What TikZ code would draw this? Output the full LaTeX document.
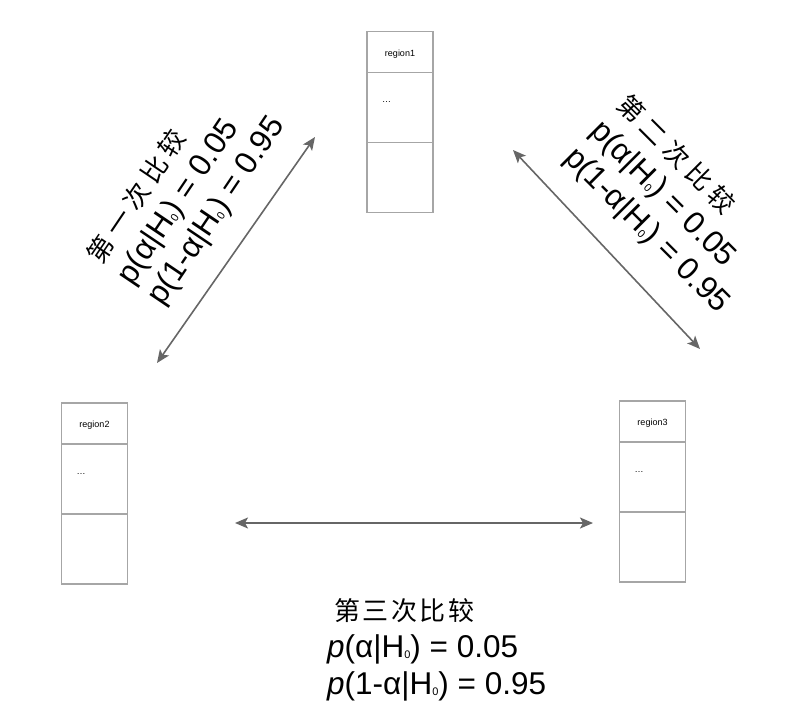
\documentclass[tikz,border=0pt]{standalone}
\usepackage{fontspec}
\setmainfont{Liberation Sans}
\newfontfamily\cjk{Noto Sans CJK SC}
\usetikzlibrary{positioning,arrows.meta}
\definecolor{boxgray}{HTML}{A6A6A6}
\definecolor{arrowgray}{HTML}{666666}
\newcommand{\Hnull}{H\raisebox{-1pt}{\fontsize{11}{11}\selectfont 0}}
\newcommand{\roundname}[2]{{\cjk\addfontfeature{LetterSpace=#1}\fontsize{26}{37}\selectfont #2}}

\begin{document}
\begin{tikzpicture}[x=1pt, y=-1pt,
      cell/.style={draw=boxgray, line width=1.5pt, minimum width=66pt, inner sep=0pt, outer sep=0pt},
      head/.style={cell, minimum height=41pt, text height=8pt, text depth=0pt, font=\fontsize{9}{9}\selectfont},
      body/.style={cell, minimum height=70pt, text width=36pt, align=left, text depth=10pt, font=\fontsize{9}{9}\selectfont},
      foot/.style={cell, minimum height=70pt},
      pair/.style={arrowgray, line width=1.6pt, {Stealth[length=13pt,width=11pt,inset=3pt]}-{Stealth[length=13pt,width=11pt,inset=3pt]}},
      test/.style={align=left, inner sep=0pt, font=\fontsize{31.5}{37}\selectfont}]

      \useasboundingbox (0,0) rectangle (786,726);

      % the three regions
      \node[head] (r1a) at (400,52) {region1};
      \node[body, below=0pt of r1a] (r1b) {\ldots};
      \node[foot, below=0pt of r1b] (r1c) {};

      \node[head] (r2a) at (94.5,423.5) {region2};
      \node[body, below=0pt of r2a] (r2b) {\ldots};
      \node[foot, below=0pt of r2b] (r2c) {};

      \node[head] (r3a) at (652.5,421.5) {region3};
      \node[body, below=0pt of r3a] (r3b) {\ldots};
      \node[foot, below=0pt of r3b] (r3c) {};

      % comparisons
      \coordinate (e12a) at (157,363);
      \coordinate (e12b) at (315,137);
      \coordinate (e13a) at (513,150);
      \coordinate (e13b) at (700,349);
      \coordinate (e23a) at (235,523);
      \coordinate (e23b) at (593,523);
      \draw[pair] (e12a) -- (e12b);
      \draw[pair] (e13a) -- (e13b);
      \draw[pair] (e23a) -- (e23b);

      \node[test, rotate=56] (t12) at (187,191) {\roundname{23}{第一次比较}\\ p(α|\Hnull) = 0.05\\ p(1-α|\Hnull) = 0.95};
      \node[test, rotate=-45] (t13) at (672,205) {\roundname{23}{第二次比较}\\ p(α|\Hnull) = 0.05\\ p(1-α|\Hnull) = 0.95};
      \node[test, anchor=north west] (t23) at (327,598) {\hspace*{7pt}\roundname{10}{第三次比较}\\ \textit{p}(α|\Hnull) = 0.05\\ \textit{p}(1-α|\Hnull) = 0.95};
\end{tikzpicture}
\end{document}
